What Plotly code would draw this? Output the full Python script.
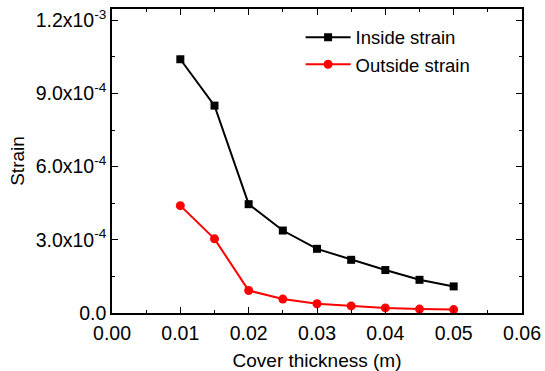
import plotly.graph_objects as go

thickness = [0.010, 0.015, 0.020, 0.025, 0.030, 0.035, 0.040, 0.045, 0.050]
inside_strain = [1.04e-3, 8.5e-4, 4.46e-4, 3.38e-4, 2.63e-4, 2.18e-4, 1.76e-4, 1.36e-4, 1.09e-4]
outside_strain = [4.4e-4, 3.04e-4, 0.92e-4, 0.57e-4, 0.38e-4, 0.29e-4, 0.21e-4, 0.16e-4, 0.14e-4]

x_ticks = [0.00, 0.01, 0.02, 0.03, 0.04, 0.05, 0.06]
x_ticktext = ["0.00", "0.01", "0.02", "0.03", "0.04", "0.05", "0.06"]
y_ticks = [0.0, 3.0e-4, 6.0e-4, 9.0e-4, 1.2e-3]
y_ticktext = ["0.0", "3.0x10<sup>-4</sup>", "6.0x10<sup>-4</sup>", "9.0x10<sup>-4</sup>", "1.2x10<sup>-3</sup>"]

font_family = "Liberation Sans, Arial, sans-serif"

fig = go.Figure()
fig.add_trace(go.Scatter(
    x=thickness, y=inside_strain, mode="lines+markers", name="Inside strain",
    line=dict(color="black", width=2),
    marker=dict(symbol="square", size=8, color="black"),
))
fig.add_trace(go.Scatter(
    x=thickness, y=outside_strain, mode="lines+markers", name="Outside strain",
    line=dict(color="#ff0000", width=2),
    marker=dict(symbol="circle", size=9, color="#ff0000"),
))

axis_common = dict(
    showgrid=False, zeroline=False, showline=True, linecolor="black", linewidth=1.5,
    mirror="ticks", ticks="inside", ticklen=6, tickwidth=1.2, tickcolor="black",
    tickfont=dict(family=font_family, size=19.5, color="black"),
    automargin=False,
)

fig.update_xaxes(
    **axis_common, range=[0, 0.06], tickmode="array", tickvals=x_ticks, ticktext=x_ticktext,
    ticklabelstandoff=2,
    minor=dict(ticks="inside", ticklen=3, tickwidth=1.2, tickcolor="black", dtick=0.005, tick0=0, showgrid=False),
    title=dict(text="Cover thickness (m)", font=dict(family=font_family, size=19, color="black"), standoff=11),
)
fig.update_yaxes(
    **axis_common, range=[0, 1.246e-3], tickmode="array", tickvals=y_ticks, ticktext=y_ticktext,
    minor=dict(ticks="inside", ticklen=3, tickwidth=1.2, tickcolor="black", dtick=1.5e-4, tick0=0, showgrid=False),
    title=dict(text="Strain", font=dict(family=font_family, size=19, color="black"), standoff=6),
)

fig.update_layout(
    width=545, height=371,
    margin=dict(l=112, r=23, t=9, b=58),
    plot_bgcolor="white", paper_bgcolor="white",
    font=dict(family=font_family, size=18, color="black"),
    legend=dict(x=0.46, y=0.968, xanchor="left", yanchor="top", bgcolor="rgba(0,0,0,0)",
                itemwidth=45, font=dict(family=font_family, size=18.5, color="black"), tracegroupgap=0),
    showlegend=True,
)

fig.write_html("out.html")
